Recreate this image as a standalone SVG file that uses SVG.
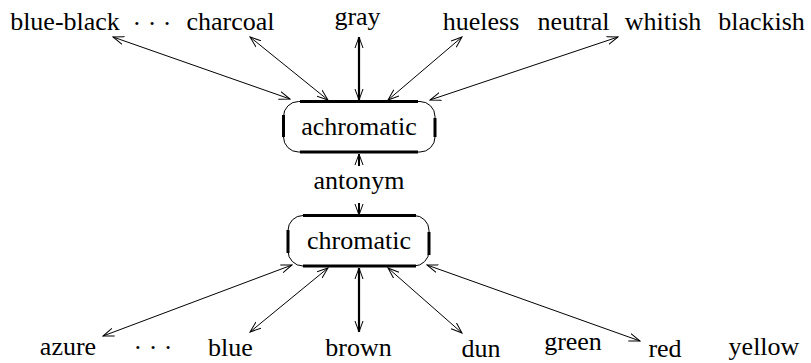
<svg xmlns="http://www.w3.org/2000/svg" width="811" height="363" viewBox="0 0 811 363">
  <style>
    text { font-family: "Liberation Serif", Tinos, "Times New Roman", Times, "Nimbus Roman", "Nimbus Roman No9 L", FreeSerif, "Noto Serif", "DejaVu Serif", serif; font-size: 26px; fill: #000; text-anchor: middle; }
    .edge { fill: none; stroke: #000; stroke-width: 1; marker-start: url(#head); marker-end: url(#head); }
    .edge.bold { stroke-width: 2.2; }
    .box { fill: #fff; stroke: #000; stroke-width: 1; }
    .rim { fill: none; stroke: #000; stroke-width: 3; }
  </style>
  <defs>
    <marker id="head" viewBox="0 0 12 10" refX="11" refY="5" markerWidth="12" markerHeight="10" markerUnits="userSpaceOnUse" orient="auto-start-reverse">
      <path d="M0,1 L11,5 L0,9" fill="none" stroke="#000" stroke-width="1"/>
    </marker>
  </defs>

  <!-- connectors -->
  <g id="connectors">
    <line class="edge" x1="113" y1="37" x2="290" y2="99"/>
    <line class="edge" x1="250" y1="37" x2="328" y2="100"/>
    <line class="edge bold" x1="359" y1="37" x2="359" y2="100"/>
    <line class="edge" x1="462" y1="37" x2="388" y2="100"/>
    <line class="edge" x1="618" y1="37" x2="430" y2="100"/>

    <line class="edge" x1="103" y1="336" x2="292" y2="265"/>
    <line class="edge" x1="250" y1="332" x2="328" y2="268"/>
    <line class="edge bold" x1="359" y1="332" x2="359" y2="268"/>
    <line class="edge" x1="462" y1="333" x2="388" y2="268"/>
    <line class="edge" x1="640" y1="341" x2="427" y2="265"/>

    <!-- antonym link, split around its label -->
    <line x1="359" y1="166" x2="359" y2="154" stroke="#000" stroke-width="2" marker-end="url(#head)"/>
    <line x1="359" y1="203" x2="359" y2="215" stroke="#000" stroke-width="2" marker-end="url(#head)"/>
  </g>

  <!-- central synsets -->
  <g id="achromatic">
    <rect class="box" x="283.5" y="101.5" width="151.5" height="50.5" rx="15" ry="15"/>
    <path class="rim" d="M300,101.5 H418 M300,152 H418 M283.5,115 V137 M435,118 V137"/>
    <text x="359" y="135">achromatic</text>
  </g>
  <g id="chromatic">
    <rect class="box" x="288" y="215.5" width="141" height="50.5" rx="15" ry="15"/>
    <path class="rim" d="M303,215.5 H416 M303,266 H416 M288,230 V253 M429,232 V255"/>
    <text x="359" y="249">chromatic</text>
  </g>
  <g id="antonym">
    <text x="359" y="189">antonym</text>
  </g>

  <!-- achromatic relatives -->
  <g id="blue-black"><text x="65" y="30">blue-black</text></g>
  <g id="dots-top"><text x="152" y="32">· · ·</text></g>
  <g id="charcoal"><text x="230.5" y="30">charcoal</text></g>
  <g id="gray"><text x="357.5" y="25">gray</text></g>
  <g id="hueless"><text x="481" y="30">hueless</text></g>
  <g id="neutral"><text x="573.5" y="30">neutral</text></g>
  <g id="whitish"><text x="663" y="30">whitish</text></g>
  <g id="blackish"><text x="761.5" y="30">blackish</text></g>

  <!-- chromatic relatives -->
  <g id="azure"><text x="68" y="355">azure</text></g>
  <g id="dots-bottom"><text x="153" y="356">· · ·</text></g>
  <g id="blue"><text x="230.5" y="356">blue</text></g>
  <g id="brown"><text x="358.5" y="356">brown</text></g>
  <g id="dun"><text x="481" y="357">dun</text></g>
  <g id="green"><text x="573" y="350">green</text></g>
  <g id="red"><text x="665" y="357">red</text></g>
  <g id="yellow"><text x="764" y="355">yellow</text></g>
</svg>
